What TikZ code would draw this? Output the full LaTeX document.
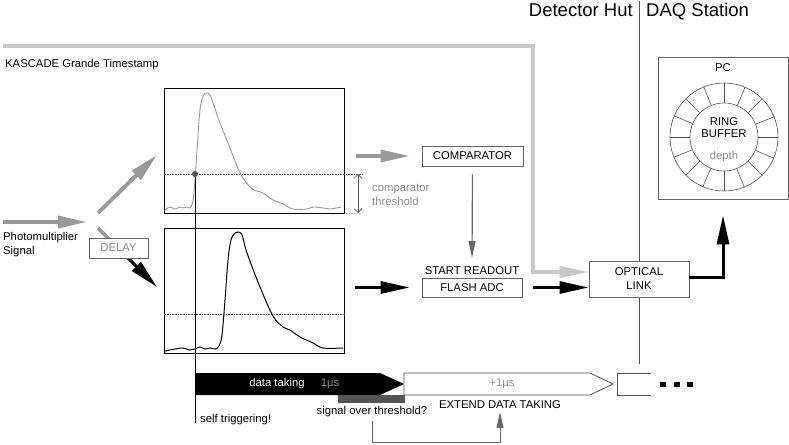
\documentclass[tikz,border=0pt]{standalone}
\usepackage{fontspec}
\setmainfont{Liberation Sans}
\usetikzlibrary{arrows.meta}
\definecolor{lgray}{HTML}{C8C8C8}
\definecolor{mgray}{HTML}{999999}
\definecolor{tgray}{HTML}{8C8C8C}
\definecolor{dgray}{HTML}{555555}
\definecolor{bgray}{HTML}{666666}
\begin{document}
\begin{tikzpicture}[x=1pt,y=-1pt,
  font=\fontsize{11.3}{13}\selectfont,
  box/.style={draw=bgray, line width=0.8pt, inner sep=0pt, fill=white},
  plotbox/.style={draw=black, line width=1pt, minimum width=180pt, minimum height=125pt, inner sep=0pt},
  grayarrow/.style={draw=mgray, line width=3.8pt, -{Triangle[length=29pt,width=12pt]}},
  blackarrow/.style={draw=black, line width=3pt, -{Triangle[length=29pt,width=12pt]}},
  lightarrow/.style={draw=lgray, line width=3.5pt, -{Triangle[length=29pt,width=11pt]}},
  thinarrow/.style={draw=bgray, line width=1.2pt, -{Triangle[length=17pt,width=7pt]}},
  thr/.style={densely dotted, line width=0.6pt, draw=dgray},
  lab/.style={inner sep=0pt}
]
\useasboundingbox (0,0) rectangle (789,444);

% ---- title lines
\node[lab, anchor=base east, font=\fontsize{18.5}{22}\selectfont] (hut) at (633,17) {Detector Hut};
\node[lab, anchor=base west, font=\fontsize{18.5}{22}\selectfont] (daq) at (646,17) {DAQ Station};
\coordinate (sepT) at (639,1);
\coordinate (sepB) at (639,364);
\draw[line width=0.6pt, draw=dgray] (sepT) -- (sepB);

% ---- plots
\node[plotbox] (plot1) at (254,150.5) {};
\node[plotbox] (plot2) at (254,290.5) {};

% ---- boxes
\node[box, minimum width=101pt, minimum height=20pt] (comp) at (472.5,156) {COMPARATOR};
\node[box, minimum width=100pt, minimum height=19pt] (fadc) at (472,287.5) {FLASH ADC};
\node[lab] (startro) at (472,271) {START READOUT};
\node[box, minimum width=100pt, minimum height=36pt, align=center, font=\fontsize{11.3}{14}\selectfont] (optical) at (639,279) {OPTICAL\\LINK};
\node[box, minimum width=130pt, minimum height=142pt] (pc) at (723,128) {};
\node[lab] (pclab) at (723,68) {PC};

% ---- ring buffer
\node[circle, draw=dgray, line width=0.6pt, minimum size=108pt, inner sep=0pt] (ringo) at (724,137) {};
\node[circle, draw=dgray, line width=0.6pt, minimum size=68pt, inner sep=0pt] (ringi) at (724,137) {};
\foreach \a in {0,22.5,...,337.5} \draw[line width=0.6pt, draw=dgray] (ringi.\a) -- (ringo.\a);
\node[lab, align=center, font=\fontsize{11.3}{11.7}\selectfont] (ringtxt) at (724,127.5) {RING\\BUFFER};
\node[lab, text=tgray] (depth) at (724,157) {depth};

% ---- timestamp line
\coordinate (ts) at (3,46);
\coordinate (tsc) at (533,46);
\draw[lightarrow] (ts) -- (tsc) -- (tsc |- 0,272) -- ([yshift=7pt]optical.west);
\node[lab, anchor=west] (kgts) at (5,65) {KASCADE Grande Timestamp};

% ---- photomultiplier input
\coordinate (pm0) at (3,222);
\coordinate (pm1) at (87,222);
\draw[grayarrow] (pm0) -- (pm1);
\node[lab, anchor=west, align=left, font=\fontsize{11.3}{13.5}\selectfont] (pmtxt) at (3,244.5) {Photomultiplier\\Signal};
\coordinate (up0) at (98,213);
\coordinate (up1) at (157,155);
\draw[grayarrow] (up0) -- (up1);
\coordinate (dn0) at (98,228);
\coordinate (dnm) at (118,248);
\coordinate (dn1) at (157,287);
\draw[draw=mgray, line width=3.8pt] (dn0) -- (dnm);
\draw[blackarrow] (dnm) -- (dn1);
\node[box, minimum width=59pt, minimum height=20pt, text=tgray] (delay) at (118.5,248) {DELAY};

% ---- threshold
\draw[thr] (plot1.west |- 0,174) -- (362,174);
\draw[thr] (plot1.south east) -- (362,213);
\draw[thr] (plot2.west |- 0,314) -- (plot2.east |- 0,314);
\coordinate (thrT) at (358,174);
\coordinate (thrB) at (358,213);
\draw[line width=0.6pt, draw=dgray, {Straight Barb[length=4pt,width=8pt]}-{Straight Barb[length=4pt,width=8pt]}] (thrT) -- (thrB);
\node[lab, anchor=west, align=left, text=tgray, font=\fontsize{11.3}{14}\selectfont] (thrtxt) at (372,195) {comparator\\threshold};

% ---- pulses
\draw[mgray, line width=0.9pt] plot[smooth, tension=0.55] coordinates {
 (165,210) (170,207) (175,209) (180,207) (183,208) (187,207) (190,208) (193,201) (195,180)
 (197,150) (200,110) (203,96) (207,93) (210,95) (213,103) (220,123) (230,148) (240,173)
 (250,187) (257,191) (263,193) (273,200) (283,204) (293,209) (307,209) (313,207) (323,208) (330,209) (341,207)};
\draw[black, line width=1pt] plot[smooth, tension=0.55] coordinates {
 (165,351) (175,349) (183,348) (190,350) (195,349) (200,347) (205,349) (210,348) (215,349)
 (219,346) (222,335) (225,300) (228,260) (231,240) (235,233) (238,232) (242,235) (247,253)
 (260,287) (273,316) (283,327) (290,330) (300,337) (313,343) (323,348) (343,348)};
\coordinate (trig) at (195,174);
\coordinate (trigB) at (195,423);
\draw[line width=0.7pt] (trig) -- (trigB);
\fill[dgray] (trig) circle[radius=3pt];

% ---- signal arrows
\draw[grayarrow, line width=3.5pt] ([xshift=11pt]plot1.east |- comp) -- ([xshift=-12pt]comp.west);
\draw[thinarrow] ([yshift=-8pt]comp.south) -- ([yshift=9pt]startro.north);
\draw[blackarrow] ([xshift=10pt]plot2.east |- fadc) -- ([xshift=-12pt]fadc.west);
\draw[blackarrow] ([xshift=11pt]fadc.east) -- (optical.west |- fadc);
\draw[blackarrow] ([yshift=2pt]optical.east) -| ([yshift=-16pt]pc.south);

% ---- timeline
\fill[black] (195,373) -- (380,373) -- (404,384) -- (380,395) -- (195,395) -- cycle;
\node[lab, text=white] (dtake) at (277,383.5) {data taking};
\node[lab, text=tgray] (onemu) at (330,383.5) {1µs};
\draw[draw=dgray, line width=0.8pt, fill=white] (404,373) -- (590,373) -- (613,384) -- (590,395) -- (404,395) -- cycle;
\node[lab, text=tgray] (plusmu) at (502,383.5) {+1µs};
\draw[draw=dgray, line width=0.8pt] (651,373) -- (617,373) -- (617,395) -- (651,395);
\foreach \x in {663,677,690} \fill[black] (\x-3,381.5) rectangle (\x+3,386.5);
\fill[dgray] (338,395) rectangle (405,403);
\node[lab] (sot) at (372,411.5) {signal over threshold?};
\node[lab] (extend) at (500,405) {EXTEND DATA TAKING};
\node[lab, anchor=west] (selftrig) at (200,420) {self triggering!};
\draw[thinarrow, line width=1pt, -{Triangle[length=16pt,width=7pt]}] ([yshift=-4pt]sot.south) -- (sot.south |- 0,442) -| ([yshift=-3pt]extend.south);
\end{tikzpicture}
\end{document}
